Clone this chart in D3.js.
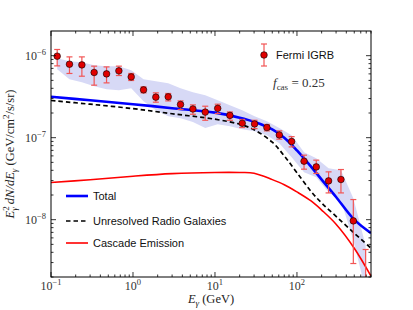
<!DOCTYPE html>
<html>
<head>
<meta charset="utf-8">
<script src="https://cdn.jsdelivr.net/npm/d3@7"></script>
<style>
  body { margin: 0; background: #fff; }
</style>
</head>
<body>
<div id="grafico"></div>
<script>
// Fermi IGRB data points (GeV, GeV/cm^2/s/sr)
const energia = [0.119, 0.168, 0.238, 0.336, 0.476, 0.673, 0.951, 1.345, 1.90, 2.69, 3.80, 5.38, 7.61,
  10.8, 15.2, 21.5, 30.4, 43.0, 60.9, 86.1, 122, 172, 243, 344, 487, 688];
const fluxo = [9.86e-7, 7.87e-7, 7.72e-7, 6.24e-7, 6.0e-7, 6.53e-7, 5.51e-7, 3.83e-7, 3.12e-7, 3.15e-7, 2.54e-7,
  2.24e-7, 2.05e-7, 2.28e-7, 1.87e-7, 1.50e-7, 1.47e-7, 1.33e-7, 1.08e-7, 8.99e-8, 5.17e-8, 4.40e-8, 2.97e-8,
  3.09e-8, 9.67e-9, 1.38e-9];
const fluxoAlto = [1.19e-6, 9.67e-7, 9.67e-7, 7.45e-7, 7.30e-7, 7.45e-7, 6.07e-7, 4.16e-7, 3.52e-7, 3.46e-7, 2.81e-7,
  2.51e-7, 2.42e-7, 2.56e-7, 2.06e-7, 1.67e-7, 1.63e-7, 1.45e-7, 1.21e-7, 1.03e-7, 6.12e-8, 5.32e-8, 3.83e-8,
  4.09e-8, 1.76e-8, 4.33e-9];
const fluxoBaixo = [7.51e-7, 6.07e-7, 5.62e-7, 4.37e-7, 4.66e-7, 5.73e-7, 4.98e-7, 3.52e-7, 2.71e-7, 2.81e-7, 2.21e-7,
  1.93e-7, 1.63e-7, 1.97e-7, 1.63e-7, 1.33e-7, 1.29e-7, 1.21e-7, 9.59e-8, 7.72e-8, 4.13e-8, 3.66e-8, 2.12e-8,
  2.12e-8, 2.92e-9, 5.0e-10];

// faixa de incerteza (foreground)
const faixaAlta = [9.3e-7, 8.57e-7, 8.33e-7, 7.66e-7, 7.45e-7, 7.45e-7, 6.65e-7, 5.17e-7, 4.89e-7, 4.62e-7, 4.02e-7,
  3.59e-7, 3.30e-7, 2.87e-7, 2.49e-7, 2.16e-7, 1.83e-7, 1.59e-7, 1.31e-7, 1.07e-7, 6.65e-8, 5.62e-8, 4.25e-8,
  4.02e-8, 1.83e-8, 4.89e-9];
const faixaBaixa = [6.84e-7, 5.17e-7, 4.75e-7, 4.25e-7, 3.90e-7, 3.80e-7, 4.02e-7, 2.79e-7, 2.16e-7, 1.83e-7, 1.73e-7,
  1.55e-7, 1.31e-7, 1.46e-7, 1.38e-7, 1.27e-7, 1.20e-7, 1.07e-7, 8.57e-8, 5.78e-8, 3.80e-8, 3.30e-8, 2.16e-8,
  1.73e-8, 5.62e-9, 1.38e-9];

// curvas do modelo
const energiaModelo = [0.1, 0.3, 1, 3, 10, 20, 30, 50, 70, 100, 150, 200, 300, 500, 800];
const total = [3.16e-7, 2.86e-7, 2.56e-7, 2.29e-7, 2.02e-7, 1.75e-7, 1.56e-7, 1.26e-7, 1.0e-7, 7.0e-8, 4.38e-8,
  3.08e-8, 1.89e-8, 1.0e-8, 6.85e-9];
const radio = [2.84e-7, 2.56e-7, 2.26e-7, 1.96e-7, 1.68e-7, 1.46e-7, 1.25e-7, 8.8e-8, 6.0e-8, 3.74e-8, 2.18e-8,
  1.6e-8, 1.1e-8, 6.85e-9, 4.49e-9];
const cascata = [2.84e-8, 3.07e-8, 3.39e-8, 3.64e-8, 3.76e-8, 3.76e-8, 3.69e-8, 3.08e-8, 2.67e-8, 2.18e-8, 1.68e-8,
  1.31e-8, 8.81e-9, 4.49e-9, 2.05e-9];

// ticks
const xTicks = [0.1, 1, 10, 100];
const xTickExp = ["\u22121", "0", "1", "2"];
const yTicks = [1e-6, 1e-7, 1e-8];
const yTickExp = ["\u22126", "\u22127", "\u22128"];

const margin = { top: 31, right: 42, bottom: 33, left: 51 };
const width = 413 - margin.left - margin.right;
const height = 310 - margin.top - margin.bottom;

const svg = d3.select("#grafico")
  .append("svg")
  .attr("width", 413)
  .attr("height", 310)
  .append("g")
  .attr("transform", `translate(${margin.left},${margin.top})`);

const x = d3.scaleLog().domain([0.1, 800]).range([0, width]);
const y = d3.scaleLog().domain([2e-9, 2e-6]).range([height, 0]);

svg.append("clipPath").attr("id", "clip")
  .append("rect").attr("width", width).attr("height", height);

const area = svg.append("g").attr("clip-path", "url(#clip)");

// faixa
const pontos = energia.map((e, i) => ({ e, f: fluxo[i], hi: fluxoAlto[i], lo: fluxoBaixo[i], bh: faixaAlta[i], bl: faixaBaixa[i] }));
area.append("path")
  .datum(pontos)
  .attr("fill", "#d7d9f6")
  .attr("d", d3.area().x(d => x(d.e)).y0(d => y(d.bl)).y1(d => y(d.bh)).curve(d3.curveLinear));

// curvas
const modelo = energiaModelo.map((e, i) => ({ e, t: total[i], r: radio[i], c: cascata[i] }));
const linha = key => d3.line().x(d => x(d.e)).y(d => y(d[key])).curve(d3.curveCatmullRom.alpha(0.5));

area.append("path").datum(modelo)
  .attr("fill", "none").attr("stroke", "#ff0000").attr("stroke-width", 1.6)
  .attr("d", linha("c"));
area.append("path").datum(modelo)
  .attr("fill", "none").attr("stroke", "#000").attr("stroke-width", 1.7)
  .attr("stroke-dasharray", "4.5,3")
  .attr("d", linha("r"));
area.append("path").datum(modelo)
  .attr("fill", "none").attr("stroke", "#0000ff").attr("stroke-width", 2.6)
  .attr("d", linha("t"));

// barras de erro
const erro = area.append("g").attr("stroke", "#f25555").attr("stroke-width", 1.2);
erro.selectAll(".barra").data(pontos).enter().append("line")
  .attr("x1", d => x(d.e)).attr("x2", d => x(d.e))
  .attr("y1", d => y(d.hi)).attr("y2", d => y(d.lo));
erro.selectAll(".capa-alta").data(pontos).enter().append("line")
  .attr("x1", d => x(d.e) - 3).attr("x2", d => x(d.e) + 3)
  .attr("y1", d => y(d.hi)).attr("y2", d => y(d.hi));
erro.selectAll(".capa-baixa").data(pontos).enter().append("line")
  .attr("x1", d => x(d.e) - 3).attr("x2", d => x(d.e) + 3)
  .attr("y1", d => y(d.lo)).attr("y2", d => y(d.lo));

area.selectAll(".ponto").data(pontos).enter().append("circle")
  .attr("cx", d => x(d.e)).attr("cy", d => y(d.f)).attr("r", 3.3)
  .attr("fill", "#e00000").attr("stroke", "#000").attr("stroke-width", 0.6);

// moldura e ticks
svg.append("rect").attr("width", width).attr("height", height)
  .attr("fill", "none").attr("stroke", "#000").attr("stroke-width", 1);

const xMinor = [];
for (let p = -1; p <= 2; p++) for (let m = 2; m <= 9; m++) { const v = m * Math.pow(10, p); if (v <= 800) xMinor.push(v); }
const yMinor = [];
for (let p = -9; p <= -7; p++) for (let m = 2; m <= 9; m++) { const v = m * Math.pow(10, p); if (v <= 2e-6 && v >= 2e-9) yMinor.push(v); }

const ticks = svg.append("g").attr("stroke", "#000").attr("stroke-width", 0.8);
[[xTicks, 5], [xMinor, 2.5]].forEach(([vals, len]) => {
  vals.forEach(v => {
    ticks.append("line").attr("x1", x(v)).attr("x2", x(v)).attr("y1", height).attr("y2", height - len);
    ticks.append("line").attr("x1", x(v)).attr("x2", x(v)).attr("y1", 0).attr("y2", len);
  });
});
[[yTicks, 5], [yMinor, 2.5]].forEach(([vals, len]) => {
  vals.forEach(v => {
    ticks.append("line").attr("y1", y(v)).attr("y2", y(v)).attr("x1", 0).attr("x2", len);
    ticks.append("line").attr("y1", y(v)).attr("y2", y(v)).attr("x1", width).attr("x2", width - len);
  });
});

const serif = "'Liberation Serif', 'DejaVu Serif', serif";
const sans = "'Liberation Sans', Arial, sans-serif";

// rótulos dos ticks
xTicks.forEach((v, i) => {
  const t = svg.append("text").attr("x", x(v)).attr("y", height + 13)
    .attr("text-anchor", "middle").attr("font-family", serif).attr("font-size", 12).attr("fill", "#333");
  t.append("tspan").text("10");
  t.append("tspan").attr("dy", -5).attr("font-size", 8.5).text(xTickExp[i]);
});
yTicks.forEach((v, i) => {
  const t = svg.append("text").attr("x", -5).attr("y", y(v) + 4)
    .attr("text-anchor", "end").attr("font-family", serif).attr("font-size", 12).attr("fill", "#333");
  t.append("tspan").text("10");
  t.append("tspan").attr("dy", -5).attr("font-size", 8.5).text(yTickExp[i]);
});

// labels dos eixos
const xl = svg.append("text").attr("x", width / 2).attr("y", height + 26)
  .attr("text-anchor", "middle").attr("font-family", serif).attr("font-size", 12.5).attr("fill", "#222");
xl.append("tspan").attr("font-style", "italic").text("E");
xl.append("tspan").attr("dy", 2.5).attr("font-size", 9).attr("font-style", "italic").text("\u03b3");
xl.append("tspan").attr("dy", -2.5).text(" (GeV)");

const yl = svg.append("text")
  .attr("transform", `translate(${-37},${height / 2}) rotate(-90)`)
  .attr("text-anchor", "middle").attr("font-family", serif).attr("font-size", 12.5).attr("fill", "#222");
yl.append("tspan").attr("font-style", "italic").text("E");
yl.append("tspan").attr("dy", -5).attr("font-size", 9).text("2");
yl.append("tspan").attr("dx", -4.5).attr("dy", 8).attr("font-size", 9).attr("font-style", "italic").text("\u03b3");
yl.append("tspan").attr("dy", -3).attr("font-style", "italic").text(" dN/dE");
yl.append("tspan").attr("dy", 3).attr("font-size", 9).attr("font-style", "italic").text("\u03b3");
yl.append("tspan").attr("dy", -3).text(" (GeV/cm");
yl.append("tspan").attr("dy", -5).attr("font-size", 9).text("2");
yl.append("tspan").attr("dy", 5).text("/s/sr)");

// legenda Fermi
const lx = 264 - margin.left, ly = 55 - margin.top;
svg.append("line").attr("x1", lx).attr("x2", lx).attr("y1", ly - 11).attr("y2", ly + 11)
  .attr("stroke", "#f25555").attr("stroke-width", 1.2);
[ly - 11, ly + 11].forEach(cy => svg.append("line").attr("x1", lx - 3).attr("x2", lx + 3)
  .attr("y1", cy).attr("y2", cy).attr("stroke", "#f25555").attr("stroke-width", 1.2));
svg.append("circle").attr("cx", lx).attr("cy", ly).attr("r", 3.3)
  .attr("fill", "#e00000").attr("stroke", "#000").attr("stroke-width", 0.6);
svg.append("text").attr("x", lx + 12).attr("y", ly + 4)
  .attr("font-family", sans).attr("font-size", 11).attr("fill", "#111").text("Fermi IGRB");

const fc = svg.append("text").attr("x", 273 - margin.left).attr("y", 87 - margin.top)
  .attr("font-family", serif).attr("font-size", 13).attr("fill", "#333");
fc.append("tspan").attr("font-style", "italic").text("f");
fc.append("tspan").attr("dy", 3).attr("font-size", 9).text("cas");
fc.append("tspan").attr("dy", -3).text(" = 0.25");

// legenda das curvas
const legenda = [
  { nome: "Total", cor: "#0000ff", w: 2.6, dash: null, y: 196 },
  { nome: "Unresolved Radio Galaxies", cor: "#000", w: 1.7, dash: "4.5,3", y: 221 },
  { nome: "Cascade Emission", cor: "#ff0000", w: 1.6, dash: null, y: 243 }
];
legenda.forEach(l => {
  svg.append("line").attr("x1", 66 - margin.left).attr("x2", 88 - margin.left)
    .attr("y1", l.y - margin.top).attr("y2", l.y - margin.top)
    .attr("stroke", l.cor).attr("stroke-width", l.w).attr("stroke-dasharray", l.dash);
  svg.append("text").attr("x", 93 - margin.left).attr("y", l.y - margin.top + 4)
    .attr("font-family", sans).attr("font-size", 11).attr("fill", "#111").text(l.nome);
});
</script>
</body>
</html>
